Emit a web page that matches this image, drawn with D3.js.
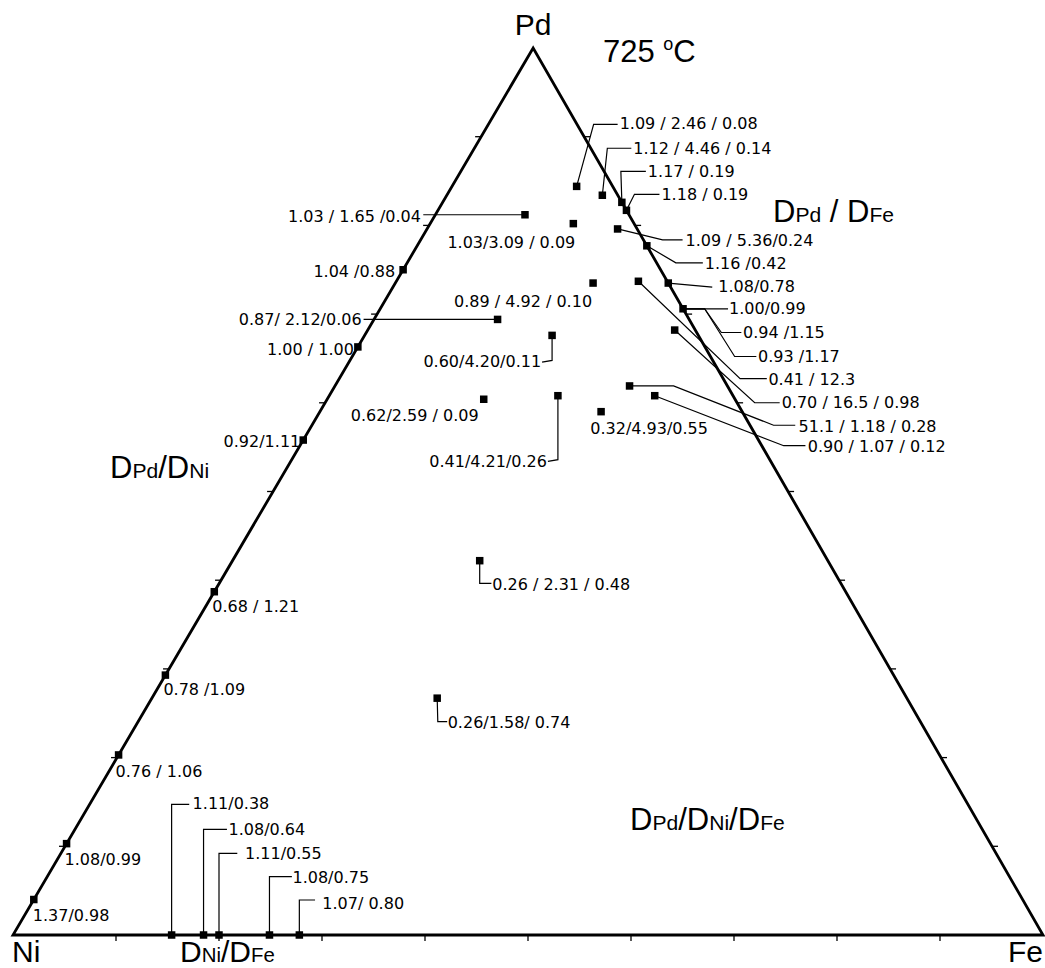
<!DOCTYPE html>
<html>
<head>
<meta charset="utf-8">
<script src="https://cdn.jsdelivr.net/npm/d3@7"></script>
<style>
  html, body { margin: 0; padding: 0; background: #fff; }
  svg { display: block; }
  .val { font-family: "DejaVu Sans", sans-serif; font-size: 16px; fill: #000; }
  .big { font-family: "Liberation Sans", Arial, sans-serif; fill: #000; }
</style>
</head>
<body>
<svg id="chart" width="1045" height="968"></svg>
<script>
// Alloy compositions (at.%) of the Pd–Ni–Fe diffusion couples at 725 °C
const pdPct = [84.4, 83.4, 82.6, 81.7, 79.6, 77.7, 73.5, 70.6, 73.7, 68.2, 61.9, 60.8,
               80.2, 73.5, 81.2, 69.4, 67.6, 60.4, 60.8, 59.0, 42.2, 26.7,
               75.0, 66.3, 55.8, 38.7, 29.3, 20.3, 10.3, 4.0,
               0, 0, 0, 0, 0];
const niPct = [3.5, 1.5, 0, 0, 1.9, 0, 0, 0, 2.8, 2.0, 9.5, 7.6,
               5.9, 7.3, 10.1, 18.6, 14.2, 24.4, 17.0, 13.7, 33.8, 45.6,
               25.0, 33.7, 44.2, 61.3, 70.7, 79.7, 89.7, 96.0,
               84.6, 81.5, 80.0, 75.1, 72.2];
const fePct = [12.1, 15.1, 17.4, 18.3, 18.5, 22.3, 26.5, 29.4, 23.5, 29.8, 28.6, 31.6,
               13.9, 19.2, 8.7, 12.0, 18.2, 15.2, 22.2, 27.3, 24.0, 27.7,
               0, 0, 0, 0, 0, 0, 0, 0,
               15.4, 18.5, 20.0, 24.9, 27.8];

// Diffusivity ratios quoted for each measurement, and the composition they belong to
const ratioText = ["1.09 / 2.46 / 0.08", "1.12 / 4.46 / 0.14", "1.17 / 0.19", "1.18 / 0.19",
  "1.09 / 5.36/0.24", "1.16 /0.42", "1.08/0.78", "1.00/0.99", "0.94 /1.15", "0.93 /1.17",
  "0.41 / 12.3", "0.70 / 16.5 / 0.98", "51.1 / 1.18 / 0.28", "0.90 / 1.07 / 0.12",
  "1.03/3.09 / 0.09", "0.89 / 4.92 / 0.10", "1.03 / 1.65 /0.04", "0.87/ 2.12/0.06",
  "0.60/4.20/0.11", "0.62/2.59 / 0.09", "0.41/4.21/0.26", "0.32/4.93/0.55",
  "0.26 / 2.31 / 0.48", "0.26/1.58/ 0.74",
  "1.04 /0.88", "1.00 / 1.00", "0.92/1.11", "0.68 / 1.21", "0.78 /1.09", "0.76 / 1.06",
  "1.08/0.99", "1.37/0.98",
  "1.11/0.38", "1.08/0.64", "1.11/0.55", "1.08/0.75", "1.07/ 0.80"];
const ratioPoint = [0, 1, 2, 3, 4, 5, 6, 7, 7, 7, 8, 9, 10, 11, 12, 13, 14, 15, 16, 17, 18, 19,
  20, 21, 22, 23, 24, 25, 26, 27, 28, 29, 30, 31, 32, 33, 34];

// Vertex names and annealing temperature
const vertexNames = ["Pd", "Ni", "Fe"];
const tempLabel = "725";

// ---- layout ----
const svg = d3.select("#chart");
const apexShare = 0.505;               // horizontal share of the Pd apex along the base
const x = d3.scaleLinear().domain([0, 1]).range([13, 1043]);
const y = d3.scaleLinear().domain([0, 1]).range([935, 48]);

function project(pd, ni, fe) {
  const t = pd + ni + fe;
  const p = pd / t, f = fe / t;
  return [x(f + p * apexShare), y(p)];
}

// Label placement: leader knots and text anchor, as pixel offsets from the marker
const labelLayout = [
  { path: [[17, -62], [41, -62]], at: [43, -57], anchor: "start" },
  { path: [[5, -47], [29, -47]], at: [31, -41], anchor: "start" },
  { path: [[-1, -31], [24, -31]], at: [26, -25], anchor: "start" },
  { path: [[8, -16], [33, -16]], at: [35, -10], anchor: "start" },
  { path: [[45, 11], [65, 11]], at: [68, 17], anchor: "start" },
  { path: [[29, 17], [56, 17]], at: [58, 23], anchor: "start" },
  { path: [[44, 4]], at: [50, 9], anchor: "start" },
  { path: [[45, 0]], at: [46, 5], anchor: "start" },
  { path: [[21.6, 0], [38.3, 23.7], [58.3, 23.7]], at: [60, 29], anchor: "start" },
  { path: [[21.6, 0], [51.6, 47.7], [73.3, 47.7]], at: [75, 53], anchor: "start" },
  { path: [[101.7, 97.3], [128.4, 97.3]], at: [130, 104], anchor: "start" },
  { path: [[80, 72.7], [105, 72.7]], at: [107, 78], anchor: "start" },
  { path: [[44, 0], [144, 39.3], [165.7, 39.3]], at: [169, 46], anchor: "start" },
  { path: [[129, 50], [150.7, 50]], at: [153, 56], anchor: "start" },
  { path: null, at: [-62, 24], anchor: "middle" },
  { path: null, at: [-70, 24], anchor: "middle" },
  { path: [[-101.7, 0]], at: [-104, 7], anchor: "end" },
  { path: [[-134, 0]], at: [-136, 6], anchor: "end" },
  { path: [[0, 25], [-10, 26.7]], at: [-11, 32], anchor: "end" },
  { path: null, at: [-69, 22], anchor: "middle" },
  { path: [[0, 64], [-10, 65.7]], at: [-11, 71], anchor: "end" },
  { path: null, at: [48, 22], anchor: "middle" },
  { path: [[0, 22.6], [11.7, 22.6]], at: [12.5, 29], anchor: "start" },
  { path: [[0.6, 23.4], [10, 23.4]], at: [10.5, 30], anchor: "start" },
  { path: null, at: [-8, 7], anchor: "end" },
  { path: null, at: [-4, 8], anchor: "end" },
  { path: null, at: [-3, 7], anchor: "end" },
  { path: null, at: [-2, 20], anchor: "start" },
  { path: null, at: [-2, 20], anchor: "start" },
  { path: null, at: [-3, 22], anchor: "start" },
  { path: null, at: [-2, 21], anchor: "start" },
  { path: null, at: [-1, 21], anchor: "start" },
  { path: [[0, -130.7], [17.6, -130.7]], at: [21, -126], anchor: "start" },
  { path: [[0, -105.7], [23.4, -105.7]], at: [25, -100], anchor: "start" },
  { path: [[0, -81.7], [18.3, -81.7]], at: [26, -76], anchor: "start" },
  { path: [[0, -58.3], [22.4, -58.3]], at: [23, -52], anchor: "start" },
  { path: [[0, -35], [15.7, -35]], at: [23, -26], anchor: "start" }
];

// ---- triangle frame ----
const vNi = project(0, 100, 0), vFe = project(0, 0, 100), vPd = project(100, 0, 0);
svg.append("path")
  .attr("d", d3.line()([vNi, vFe, vPd]) + "Z")
  .attr("fill", "none").attr("stroke", "#000")
  .attr("stroke-width", 2.8).attr("stroke-linejoin", "miter");

// ---- ticks every 10 % along each edge, drawn outward ----
const steps = d3.range(1, 10).map(d => d * 10);
const tickLen = 6;
const ticks = svg.append("g").attr("stroke", "#000").attr("stroke-width", 1.3);
steps.forEach(v => {
  const b = project(0, 100 - v, v);
  ticks.append("line").attr("x1", b[0]).attr("y1", b[1]).attr("x2", b[0]).attr("y2", b[1] + tickLen);
  const l = project(v, 100 - v, 0);
  ticks.append("line").attr("x1", l[0]).attr("y1", l[1]).attr("x2", l[0] - tickLen).attr("y2", l[1]);
  const r = project(v, 0, 100 - v);
  ticks.append("line").attr("x1", r[0]).attr("y1", r[1]).attr("x2", r[0] + tickLen).attr("y2", r[1]);
});

// ---- leaders and ratio labels ----
const pts = pdPct.map((d, i) => project(pdPct[i], niPct[i], fePct[i]));
const lab = svg.append("g");
ratioText.forEach((t, i) => {
  const p = pts[ratioPoint[i]];
  const L = labelLayout[i];
  if (L.path) {
    const knots = [[p[0], p[1]]].concat(L.path.map(o => [p[0] + o[0], p[1] + o[1]]));
    lab.append("path").attr("d", d3.line()(knots))
      .attr("fill", "none").attr("stroke", "#000").attr("stroke-width", 1.2);
  }
  lab.append("text").attr("class", "val")
    .attr("x", p[0] + L.at[0]).attr("y", p[1] + L.at[1])
    .attr("text-anchor", L.anchor).text(t);
});

// ---- composition markers ----
const sq = 7.5;
svg.append("g").selectAll("rect").data(pts).join("rect")
  .attr("x", d => d[0] - sq / 2).attr("y", d => d[1] - sq / 2)
  .attr("width", sq).attr("height", sq).attr("fill", "#000");

// ---- vertex names and temperature ----
const big = svg.append("g");
big.append("text").attr("class", "big").attr("font-size", 30)
  .attr("x", vPd[0]).attr("y", 35).attr("text-anchor", "middle").text(vertexNames[0]);
big.append("text").attr("class", "big").attr("font-size", 30)
  .attr("x", vNi[0] - 1).attr("y", 962).text(vertexNames[1]);
big.append("text").attr("class", "big").attr("font-size", 30)
  .attr("x", vFe[0]).attr("y", 962).attr("text-anchor", "end").text(vertexNames[2]);

const temp = big.append("text").attr("class", "big").attr("font-size", 31)
  .attr("x", 603).attr("y", 62);
temp.append("tspan").text(tempLabel + " ");
temp.append("tspan").attr("font-size", 18).attr("dy", -12).text("o");
temp.append("tspan").attr("dy", 12).text("C");

// ---- ratio type labels: D with element names on the same baseline ----
function ratioLabel(px, py, elems, size) {
  const t = big.append("text").attr("class", "big").attr("x", px).attr("y", py);
  elems.forEach((e, i) => {
    if (i > 0) t.append("tspan").attr("font-size", size).text(e.sep || "/");
    t.append("tspan").attr("font-size", size).text("D");
    t.append("tspan").attr("font-size", size * 0.68).text(e.el);
  });
}
ratioLabel(773, 222, [{ el: "Pd" }, { el: "Fe", sep: " / " }], 31);
ratioLabel(110, 478, [{ el: "Pd" }, { el: "Ni" }], 31);
ratioLabel(630, 830, [{ el: "Pd" }, { el: "Ni" }, { el: "Fe" }], 31);
ratioLabel(180, 962, [{ el: "Ni" }, { el: "Fe" }], 30);
</script>
</body>
</html>
